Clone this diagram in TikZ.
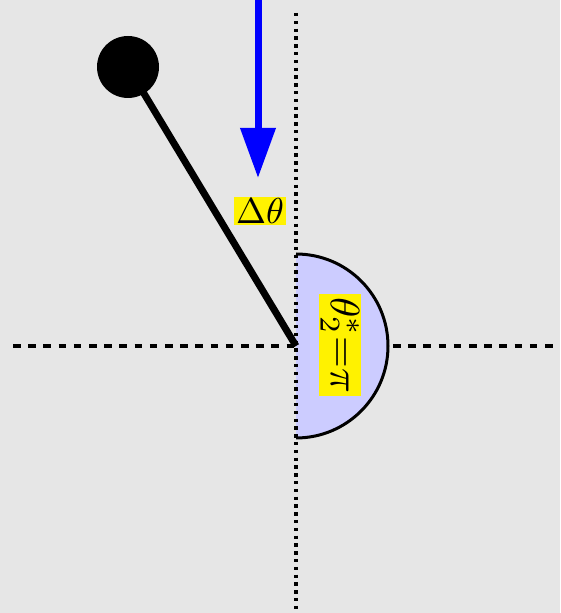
\documentclass[tikz,border=0pt]{standalone}
\usetikzlibrary{arrows.meta}
\definecolor{bggray}{RGB}{230,230,230}
\definecolor{diskblue}{RGB}{204,204,255}
\newcommand{\bigmath}[2]{\scalebox{#1}{$#2$}}
\begin{document}
\begin{tikzpicture}[x=1pt,y=1pt,
  lbl/.style={fill=yellow,inner xsep=2.5pt,inner ysep=1.5pt},
  dotline/.style={line width=3.5pt,dash pattern=on 3.5pt off 4.3pt},
  dashline/.style={line width=3.3pt,dash pattern=on 7.5pt off 7.7pt},
  rod/.style={line width=7pt},
  pusharrow/.style={blue,line width=7pt,-{Triangle[length=50pt,width=34pt]}}]
\fill[bggray] (0,0) rectangle (560,613);
\useasboundingbox (0,0) rectangle (560,613);
\coordinate (o) at (296,267);
\coordinate (hl) at (13,267);
\coordinate (hr) at (555,267);
\coordinate (vt) at (296,600);
\coordinate (vb) at (296,0);
\coordinate (atop) at (258,620);
\coordinate (atip) at (258,435);
\draw[dashline] (hl) -- (hr);
\fill[diskblue] (296,359) arc[start angle=90,end angle=-90,radius=92] -- cycle;
\draw[line width=3pt] (296,359) arc[start angle=90,end angle=-90,radius=92];
\draw[dotline] (vt) -- (vb);
\node[circle,fill=black,minimum size=62pt,inner sep=0pt] (ball) at (128,546) {};
\draw[rod] (o) -- (ball.center);
\draw[pusharrow] (atop) -- (atip);
\node[lbl] (dth) at (260,402) {\bigmath{3.6}{\Delta\theta}};
\node[lbl,rotate=-90,inner xsep=3pt] (th) at (340,268) {\bigmath{4.1}{\theta_2^*{=}\pi}};
\end{tikzpicture}
\end{document}
